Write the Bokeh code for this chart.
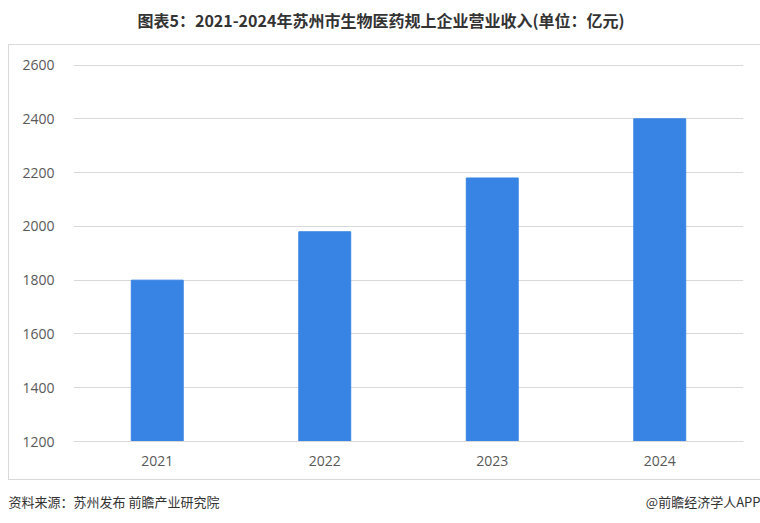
from bokeh.plotting import figure
from bokeh.models import FactorRange, Range1d, FixedTicker
from bokeh.layouts import column
from bokeh.core.properties import value
from bokeh.embed import file_html
from bokeh.resources import INLINE

years = ["2021", "2022", "2023", "2024"]
revenue = [1800, 1980, 2180, 2400]
y_ticks = [1200, 1400, 1600, 1800, 2000, 2200, 2400, 2600]
title_text = "图表5：2021-2024年苏州市生物医药规上企业营业收入(单位：亿元)"
source_text = "资料来源：苏州发布 前瞻产业研究院"
brand_text = "@前瞻经济学人APP"

W = 760
CJK = value("Noto Sans CJK SC")


def no_align(f):
    if "frame_align" in f.properties():
        f.frame_align = False
    return f


def text_strip(height):
    f = figure(width=W, height=height, x_range=Range1d(0, W), y_range=Range1d(height, 0),
               output_backend="svg", toolbar_location=None, min_border=0,
               border_fill_color="white", background_fill_color="white")
    f.axis.visible = False
    f.grid.visible = False
    f.outline_line_color = None
    return no_align(f)


# header with the chart title
header = text_strip(44)
header.text(x=[137], y=[19], text=[title_text], text_font=CJK, text_font_style="bold",
            text_font_size="16px", text_color="#333333", text_align="left", text_baseline="middle")

# main chart inside the light grey box
p = figure(x_range=FactorRange(*years, range_padding=0), y_range=Range1d(1200, 2602),
           width=W - 8, height=436, output_backend="svg", toolbar_location=None,
           min_border_left=64, min_border_right=18, min_border_top=19, min_border_bottom=40,
           margin=(0, 0, 0, 8),
           styles={"border-top": "1px solid #d9d9d9", "border-left": "1px solid #d9d9d9",
                   "border-bottom": "1px solid #d9d9d9"})
no_align(p)

p.vbar(x=years, top=revenue, bottom=1200, width=0.31, fill_color="#3884e4", line_color="#3884e4")

p.yaxis.ticker = FixedTicker(ticks=y_ticks)
p.yaxis.axis_line_color = None
p.yaxis.major_tick_line_color = None
p.yaxis.minor_tick_line_color = None
p.yaxis.major_label_standoff = 13
p.xaxis.axis_line_color = "#d9d9d9"
p.xaxis.major_tick_line_color = None
p.xaxis.major_label_standoff = 8
for ax in (p.xaxis, p.yaxis):
    ax.major_label_text_font = "Open Sans"
    ax.major_label_text_font_size = "14px"
    ax.major_label_text_color = "#595959"
p.xgrid.grid_line_color = None
p.ygrid.grid_line_color = "#d9d9d9"
p.outline_line_color = None

# footer with source and brand
footer = text_strip(41)
footer.text(x=[8], y=[21], text=[source_text], text_font=CJK, text_font_size="13px",
            text_color="#333333", text_align="left", text_baseline="middle")
footer.text(x=[W], y=[21], text=[brand_text], text_font=CJK, text_font_size="13px",
            text_color="#333333", text_align="right", text_baseline="middle")

layout = column(header, p, footer, spacing=0)
open("out.html", "w").write(file_html(layout, INLINE))
